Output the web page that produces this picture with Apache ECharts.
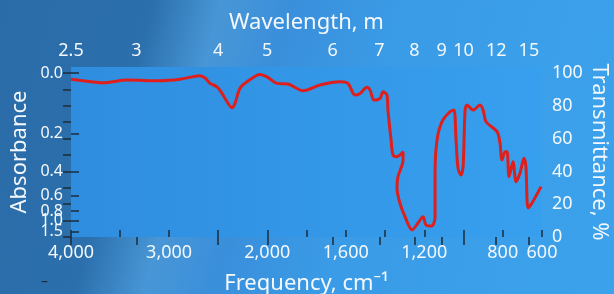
<!DOCTYPE html>
<html>
<head>
<meta charset="utf-8">
<script src="https://cdn.jsdelivr.net/npm/echarts@6/dist/echarts.min.js"></script>
<style>
html, body { margin: 0; padding: 0; }
#chart {
    width: 614px; height: 294px;
    background: linear-gradient(105deg, #2a6ca8 0%, #2b6fac 22%, #4896d6 32%, #3a8fdb 42%, #3a9be6 58%, #3ca2ec 100%);
}
</style>
</head>
<body>
<div id="chart"></div>
<script>
// spectrum: frequency (cm-1) and transmittance (%)
var freq = [4000, 3806, 3674, 3429, 3093, 2889, 2685, 2634, 2583, 2512, 2461, 2410, 2359, 2329, 2278, 2206, 2074, 2003,
    1950, 1894, 1818, 1731, 1629, 1589, 1553, 1527, 1492, 1476, 1456, 1425, 1410, 1390, 1385, 1369, 1359, 1339, 1308,
    1308, 1334, 1339, 1324, 1298, 1262, 1232, 1206, 1191, 1161, 1145, 1145, 1135, 1110, 1069, 1049, 1038, 1028, 1013,
    1002, 992, 982, 951, 916, 900, 885, 829, 814, 804, 788, 778, 768, 748, 732, 712, 692, 682, 671, 651, 605];
var trans = [96.2, 94.8, 94.1, 95.7, 95.3, 96.2, 98.4, 97, 93.7, 91.6, 87.6, 82.5, 78.8, 81.5, 90.7, 94.7, 99.2, 97.7,
    93.7, 93.3, 89.2, 92.7, 94.7, 93.7, 86.6, 87.6, 91.3, 89.6, 83.5, 84.6, 88.6, 86.6, 77.4, 59.1, 50, 49, 52,
    47, 36.8, 29.9, 20.7, 12.4, 4.3, 8.5, 12.4, 7.3, 6.7, 12.4, 39, 59.1, 70.3, 76.4, 77.4, 59.1, 42, 37.8,
    42.9, 77.4, 80.5, 77.4, 80.5, 77.4, 70.3, 64.2, 57.3, 47, 52, 52, 36.8, 45.9, 33.7, 39, 48, 42.9, 17.7, 20.7, 30.7];

var freqTicks = [4000, 3500, 3000, 2500, 2000, 1800, 1600, 1400, 1200, 1000, 800, 600];
var freqLabels = [4000, 3000, 2000, 1600, 1200, 800, 600];
var waveLabels = [2.5, 3, 4, 5, 6, 7, 8, 9, 10, 12, 15];
var absLabels = [0.0, 0.2, 0.4, 0.6, 0.8, 1.0, 1.5];
var transTicks = [0, 10, 20, 30, 40, 50, 60, 70, 80, 90, 100];
var transLabels = [0, 20, 40, 60, 80, 100];

// frequency axis is stretched 2x below 2000 cm-1
function toAxis(f) { return f >= 2000 ? 4000 - f : 2000 + 2 * (2000 - f); }
function fromAxis(u) { return u <= 2000 ? 4000 - u : 2000 - (u - 2000) / 2; }
function absToT(a) { return 100 * Math.pow(10, -a); }

var white = '#f4f8fc';
var tickColor = '#1d2c3b';
var yMax = 103.7;

// ticks point into the plot
function ticks(len, values) {
    return { inside: true, length: len, lineStyle: { color: tickColor, width: 1.5 }, customValues: values };
}
function absLabel(values) {
    return { color: white, fontSize: 16, margin: 8, hideOverlap: false,
        showMinLabel: true, showMaxLabel: true,
        customValues: values.map(absToT),
        formatter: function (v) { return Math.max(0, -Math.log10(v / 100)).toFixed(1); } };
}
// crowded absorbance labels are split over two stacked left axes so none gets dropped
var absA = absLabels.filter(function (a, i) { return i !== 4 && i !== 6; });
var absB = [absLabels[4], absLabels[6]];

var chart = echarts.init(document.getElementById('chart'), null, { renderer: 'canvas' });
chart.setOption({
    animation: false,
    textStyle: { fontFamily: 'Noto Sans' },
    grid: {
        left: 71, right: 72, top: 67, bottom: 57,
        outerBoundsMode: 'none',
        show: true, borderWidth: 0,
        backgroundColor: {
            type: 'linear', x: 0, y: 0, x2: 1, y2: 0,
            colorStops: [{ offset: 0, color: '#2f8ddf' }, { offset: 1, color: '#37a0ee' }]
        }
    },
    xAxis: [{
        type: 'value', position: 'bottom', min: 0, max: 4800,
        name: 'Frequency, cm⁻¹', nameLocation: 'middle', nameGap: 36, nameMoveOverlap: false,
        nameTextStyle: { color: white, fontSize: 22 },
        axisLine: { show: false }, splitLine: { show: false },
        axisTick: ticks(7, freqTicks.map(toAxis)),
        axisLabel: { color: white, fontSize: 18, margin: 7, hideOverlap: false,
            customValues: freqLabels.map(toAxis),
            formatter: function (v) { return Math.round(fromAxis(v)).toLocaleString('en-US'); } }
    }, {
        type: 'value', position: 'top', min: 0, max: 4800,
        name: 'Wavelength, m', nameLocation: 'middle', nameGap: 33, nameMoveOverlap: false,
        nameTextStyle: { color: white, fontSize: 22 },
        axisLine: { show: false }, splitLine: { show: false },
        axisTick: ticks(8, waveLabels.map(function (w) { return toAxis(1e4 / w); })),
        axisLabel: { color: white, fontSize: 18, margin: 7, hideOverlap: false,
            customValues: waveLabels.map(function (w) { return toAxis(1e4 / w); }),
            formatter: function (v) { return String(+(1e4 / fromAxis(v)).toFixed(1)); } }
    }],
    yAxis: [{
        type: 'value', position: 'left', min: 0, max: yMax,
        name: 'Absorbance', nameLocation: 'middle', nameGap: 40, nameMoveOverlap: false,
        nameTextStyle: { color: white, fontSize: 22 },
        axisLine: { show: false }, splitLine: { show: false },
        axisTick: ticks(8, absLabels.map(absToT)),
        axisLabel: absLabel(absA)
    }, {
        type: 'value', position: 'right', min: 0, max: yMax,
        name: 'Transmittance, %', nameLocation: 'middle', nameGap: 46, nameRotate: -90, nameMoveOverlap: false,
        nameTextStyle: { color: white, fontSize: 22 },
        axisLine: { show: false }, splitLine: { show: false },
        axisTick: ticks(8, transTicks),
        axisLabel: { color: white, fontSize: 18, margin: 10, hideOverlap: false,
            customValues: transLabels }
    }, {
        type: 'value', position: 'left', offset: 0, min: 0, max: yMax,
        axisLine: { show: false }, splitLine: { show: false }, axisTick: { show: false },
        axisLabel: absLabel(absB)
    }],
    graphic: [{
        type: 'text', left: 41, top: 275,
        style: { text: '–', fill: '#1d2c3b', fontSize: 14, fontFamily: 'Noto Sans' }
    }],
    series: [{
        type: 'line',
        xAxisIndex: 0, yAxisIndex: 1,
        data: freq.map(function (f, i) { return [toAxis(f), trans[i]]; }),
        showSymbol: false,
        smooth: 0.3,
        lineStyle: { color: '#de1f1c', width: 3 }
    }]
});
</script>
</body>
</html>
